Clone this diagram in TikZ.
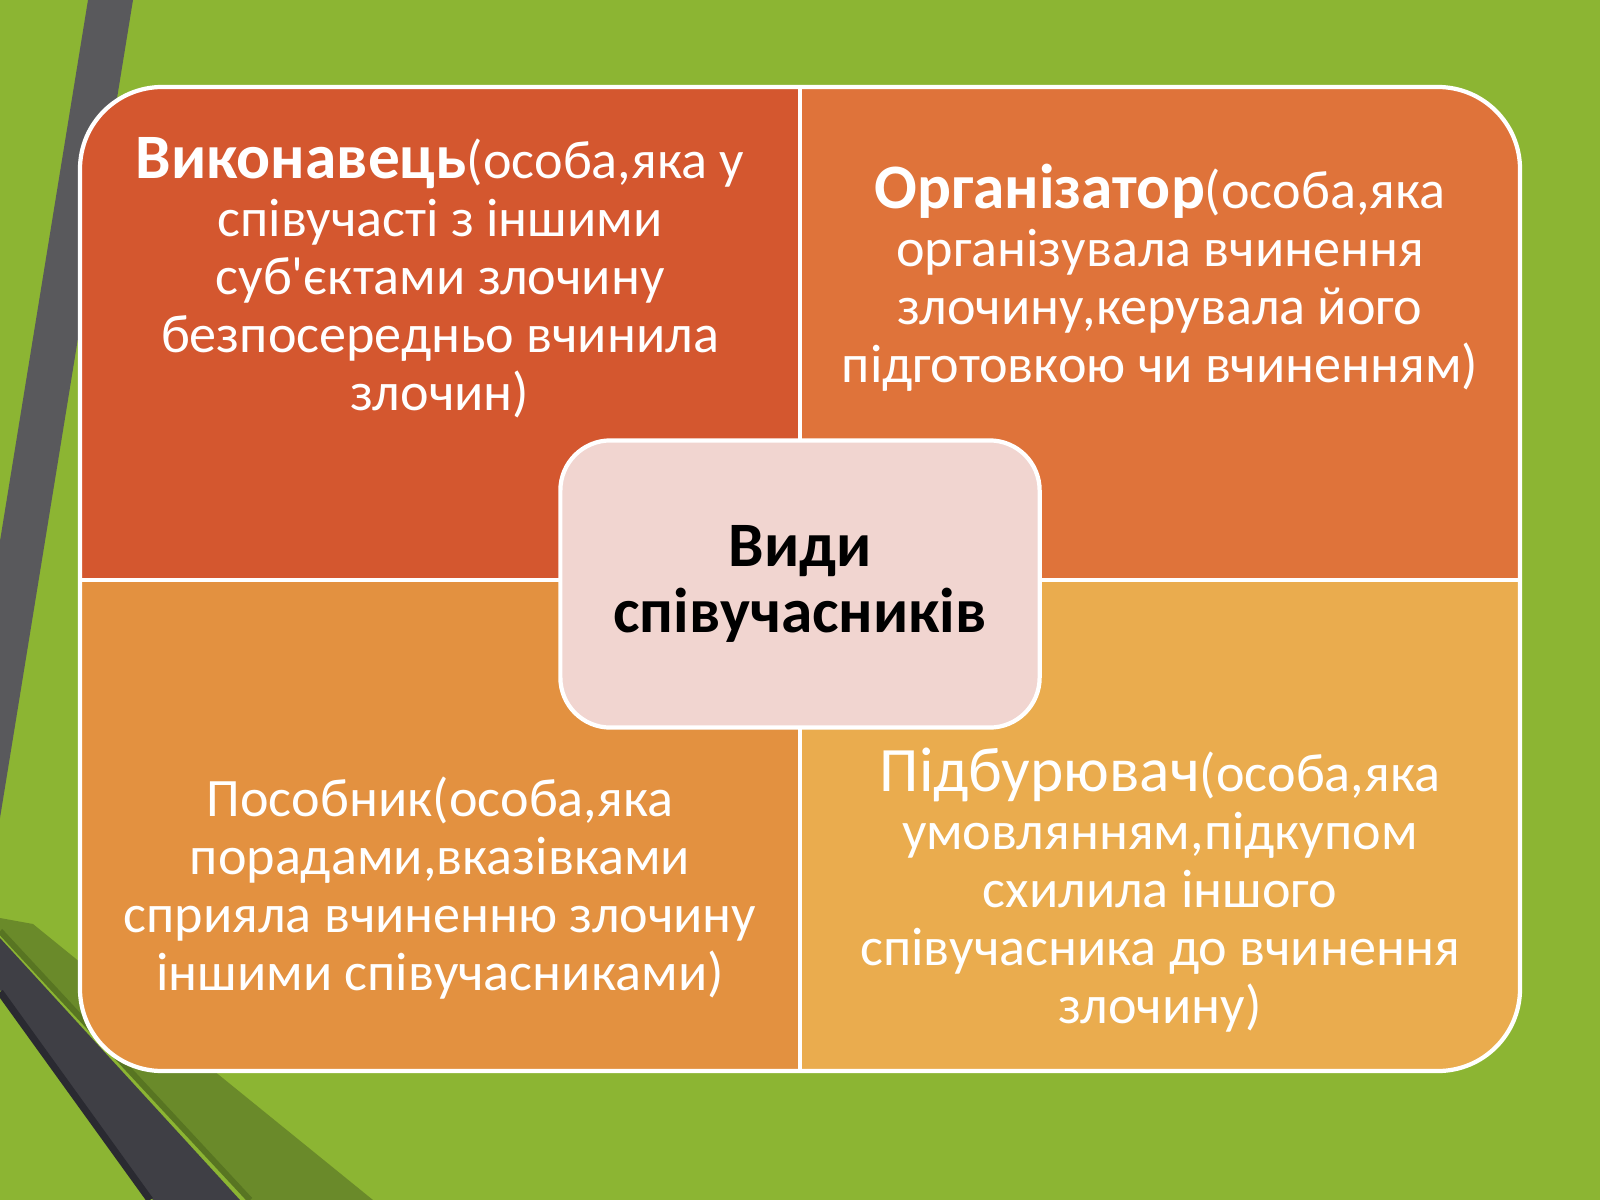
\documentclass[tikz,border=0pt]{standalone}
\usepackage{fontspec}
\setmainfont{Carlito}
\usetikzlibrary{positioning}
\definecolor{bggreen}{HTML}{8CB533}
\definecolor{stripegray}{HTML}{59595C}
\definecolor{darkband}{HTML}{3F3F45}
\definecolor{bandshadow}{HTML}{2A2A31}
\definecolor{olivebg}{HTML}{6A8A2A}
\definecolor{olivedark}{HTML}{587522}
\definecolor{tlcol}{HTML}{D4572F}
\definecolor{trcol}{HTML}{DF733A}
\definecolor{blcol}{HTML}{E39140}
\definecolor{brcol}{HTML}{EAAC4E}
\definecolor{corefill}{HTML}{F1D5D0}
\newcommand{\lead}[1]{{\fontsize{18}{16.5}\selectfont\bfseries #1}}
\begin{document}
\begin{tikzpicture}[x=0.01cm,y=-0.01cm,
  quad/.style={text=white,align=center,font=\fontsize{15.4}{16.5}\selectfont},
  core/.style={draw=white,line width=1.2pt,fill=corefill,rounded corners=0.5cm,
    minimum width=4.79cm,minimum height=2.87cm,align=center,
    font=\fontsize{18}{18.8}\selectfont\bfseries}]
\useasboundingbox (0,0) rectangle (1600,1200);
\clip (0,0) rectangle (1600,1200);
\fill[bggreen] (0,0) rectangle (1600,1200);
\fill[stripegray] (88,0) -- (133,0) -- (0,818) -- (0,541) -- cycle;
\fill[olivebg] (0,918) -- (33,924) -- (373,1200) -- (250,1200) -- (0,930) -- cycle;
\draw[olivedark,line width=0.06cm] (0,931) -- (250,1200);
\fill[darkband] (0,938) -- (240,1200) -- (153,1200) -- (0,990) -- cycle;
\draw[bandshadow,line width=0.07cm] (0,992) -- (150,1200);

\begin{scope}
\clip[rounded corners=0.82cm] (80,87) rectangle (1520,1071);
\fill[tlcol] (80,87) rectangle (800,580);
\fill[trcol] (800,87) rectangle (1520,580);
\fill[blcol] (80,580) rectangle (800,1071);
\fill[brcol] (800,580) rectangle (1520,1071);
\end{scope}
\draw[white,line width=1.2pt,rounded corners=0.82cm] (80,87) rectangle (1520,1071);
\draw[white,line width=1.2pt] (800,87) -- (800,1071) (80,580) -- (1520,580);

\node[quad] (vykon) at (440,278) {\lead{Виконавець}(особа,яка у\\співучасті з іншими\\суб\textquotesingle єктами злочину\\безпосередньо вчинила\\злочин)};
\node[quad] (orhan) at (1160,278) {\lead{Організатор}(особа,яка\\організувала вчинення\\злочину,керувала його\\підготовкою чи вчиненням)};
\node[quad] (posob) at (440,888) {Пособник(особа,яка\\порадами,вказівками\\сприяла вчиненню злочину\\іншими співучасниками)};
\node[quad] (pidbur) at (1160,890) {{\fontsize{18}{20}\selectfont Підбурювач}(особа,яка\\умовлянням,підкупом\\схилила іншого\\співучасника до вчинення\\злочину)};
\node[core] (vydy) at (800,584) {Види\\співучасників};
\end{tikzpicture}
\end{document}
